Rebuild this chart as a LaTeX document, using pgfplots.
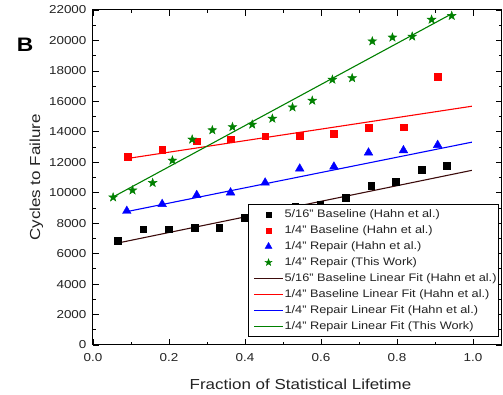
\documentclass[border=0pt]{standalone}
\usepackage{fontspec}
\setmainfont{Liberation Sans}[FakeStretch=1.17]
\usepackage{pgfplots}
\pgfplotsset{compat=1.18}
\definecolor{fitblack}{RGB}{60,12,12}
\definecolor{mygreen}{RGB}{0,128,0}
\definecolor{txt}{RGB}{35,35,35}
\pgfdeclareplotmark{fstar}{%
  \pgfpathmoveto{\pgfqpointpolar{90}{\pgfplotmarksize}}%
  \pgfpathlineto{\pgfqpointpolar{126}{0.40\pgfplotmarksize}}%
  \pgfpathlineto{\pgfqpointpolar{162}{\pgfplotmarksize}}%
  \pgfpathlineto{\pgfqpointpolar{198}{0.40\pgfplotmarksize}}%
  \pgfpathlineto{\pgfqpointpolar{234}{\pgfplotmarksize}}%
  \pgfpathlineto{\pgfqpointpolar{270}{0.40\pgfplotmarksize}}%
  \pgfpathlineto{\pgfqpointpolar{306}{\pgfplotmarksize}}%
  \pgfpathlineto{\pgfqpointpolar{342}{0.40\pgfplotmarksize}}%
  \pgfpathlineto{\pgfqpointpolar{18}{\pgfplotmarksize}}%
  \pgfpathlineto{\pgfqpointpolar{54}{0.40\pgfplotmarksize}}%
  \pgfpathclose
  \pgfusepathqfillstroke}
\begin{document}
\begin{tikzpicture}
\path[use as bounding box] (-93pt,-50pt) rectangle (410pt,345pt);
\begin{axis}[
  scale only axis, width=408.5pt, height=335pt,
  xmin=0, xmax=1.075, ymin=0, ymax=22000,
  xtick={0,0.2,0.4,0.6,0.8,1.0}, minor x tick num=1,
  ytick={0,2000,4000,6000,8000,10000,12000,14000,16000,18000,20000,22000}, minor y tick num=1,
  tick align=inside, major tick length=6pt, minor tick length=3pt,
  every tick/.style={black, line width=0.8pt},
  axis line style={line width=1pt},
  scaled ticks=false,
  /pgf/number format/assume math mode=true,
  xticklabel style={/pgf/number format/fixed, /pgf/number format/fixed zerofill, /pgf/number format/precision=1, font=\fontsize{11.5}{13}\selectfont, text=txt, yshift=-5pt},
  yticklabel style={/pgf/number format/fixed, /pgf/number format/set thousands separator={}, font=\fontsize{11.5}{13}\selectfont, text=txt, xshift=-3pt},
  xlabel={Fraction of Statistical Lifetime},
  ylabel={Cycles to Failure},
  xlabel style={at={(axis description cs:0.508,0)}, anchor=base, yshift=-45pt, font=\fontsize{14.5}{16}\selectfont, text=txt},
  ylabel style={at={(axis description cs:-0.1297,0.5)}, anchor=base, font=\fontsize{14.5}{16}\selectfont, text=txt},
  legend image code/.code={\path (-4pt,0pt); \draw[mark repeat=2, mark phase=2, #1] plot coordinates {(0pt,0pt) (14.5pt,0pt) (29pt,0pt)};},
  legend image post style={every mark/.append style={scale=0.8}},
  legend style={at={(0.994,0.025)}, anchor=south east, draw=black, line width=1pt,
    font=\fontsize{10.9}{13}\selectfont, text=txt, row sep=2.6pt, inner xsep=1pt, inner ysep=3pt,
    nodes={inner xsep=1pt}, cells={anchor=west}},
]
\addplot[only marks, mark=square*, mark size=3.4pt, mark options={black, fill=black, line width=0.4pt}] coordinates {
(0.064,6840) (0.132,7600) (0.200,7600) (0.267,7710) (0.332,7710) (0.398,8360) (0.465,8980) (0.532,9085) (0.598,9240) (0.665,9680) (0.732,10440) (0.797,10700) (0.865,11530) (0.931,11770)};
\addlegendentry{5/16" Baseline (Hahn et al.)}
\addplot[only marks, mark=square*, mark size=3.4pt, mark options={red, fill=red, line width=0.4pt}] coordinates {
(0.091,12360) (0.182,12820) (0.273,13390) (0.363,13520) (0.453,13710) (0.544,13760) (0.634,13870) (0.725,14280) (0.817,14300) (0.907,17600)};
\addlegendentry{1/4" Baseline (Hahn et al.)}
\addplot[only marks, mark=triangle*, mark size=5pt, mark options={blue, fill=blue, line width=0.4pt}] coordinates {
(0.089,8800) (0.182,9250) (0.273,9840) (0.362,10010) (0.453,10660) (0.544,11580) (0.634,11710) (0.725,12630) (0.817,12780) (0.907,13130)};
\addlegendentry{1/4" Repair (Hahn et al.)}
\addplot[only marks, mark=fstar, mark size=4.6pt, mark options={mygreen, fill=mygreen, line width=0.4pt}] coordinates {
(0.053,9700) (0.104,10160) (0.157,10650) (0.209,12120) (0.261,13500) (0.314,14110) (0.367,14320) (0.419,14480) (0.472,14870) (0.525,15610) (0.577,16050) (0.630,17430) (0.682,17530) (0.735,19950) (0.788,20200) (0.840,20260) (0.891,21370) (0.944,21620)};
\addlegendentry{1/4" Repair (This Work)}
\addplot[fitblack, line width=1.1pt] coordinates {(0.064,6690) (0.997,11470)};
\addlegendentry{5/16" Baseline Linear Fit (Hahn et al.)}
\addplot[red, line width=1.1pt] coordinates {(0.091,12250) (0.997,15680)};
\addlegendentry{1/4" Baseline Linear Fit (Hahn et al.)}
\addplot[blue, line width=1.1pt] coordinates {(0.089,8760) (0.997,13320)};
\addlegendentry{1/4" Repair Linear Fit (Hahn et al.)}
\addplot[mygreen, line width=1.1pt] coordinates {(0.049,9670) (0.944,21750)};
\addlegendentry{1/4" Repair Linear Fit (This Work)}
\end{axis}
\node[anchor=base west, font=\fontsize{19.5}{22}\selectfont\bfseries] at (-79.7pt,293pt) {B};
\end{tikzpicture}
\end{document}
